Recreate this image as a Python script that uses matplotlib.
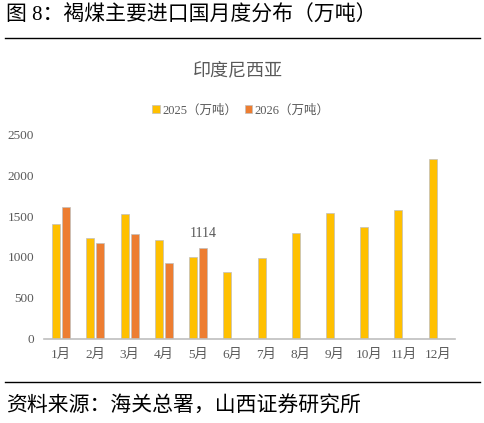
import numpy as np
import matplotlib.pyplot as plt
from matplotlib.lines import Line2D

plt.rcParams['font.family'] = ['Liberation Serif', 'Noto Sans CJK SC']

months = ['1月', '2月', '3月', '4月', '5月', '6月', '7月', '8月', '9月', '10月', '11月', '12月']
vals_2025 = [1400, 1227, 1524, 1207, 1004, 817, 988, 1293, 1537, 1361, 1577, 2199]
vals_2026 = [1610, 1166, 1280, 927, 1114, np.nan, np.nan, np.nan, np.nan, np.nan, np.nan, np.nan]
label_2025 = '2025（万吨）'
label_2026 = '2026（万吨）'

c25 = '#FFC000'
c26 = '#ED7D31'
gray = '#595959'

fig = plt.figure(figsize=(4.85, 4.23), dpi=100)
ax = fig.add_axes([0.0907, 0.1986, 0.847, 0.4846])

x = np.arange(len(months))
w = 0.235
ax.bar(x - 0.145, vals_2025, w, color=c25, edgecolor='#BFBFBF', linewidth=0.5, label=label_2025)
ax.bar(x + 0.145, vals_2026, w, color=c26, edgecolor='#BFBFBF', linewidth=0.5, label=label_2026)

# data label for May 2026
ax.text(4 + 0.145, vals_2026[4] + 95, '1114', ha='center', va='bottom', fontsize=10, color=gray)

ax.set_xlim(-0.5, 11.5)
ax.set_ylim(0, 2500)
ax.set_yticks([0, 500, 1000, 1500, 2000, 2500])
ax.set_xticks(x)
ax.set_xticklabels(months)
ax.tick_params(axis='both', length=0, labelsize=9.5, colors=gray)
ax.tick_params(axis='y', pad=7)
ax.tick_params(axis='x', pad=7)
for s in ['top', 'right', 'left']:
    ax.spines[s].set_visible(False)
ax.spines['bottom'].set_color('#BFBFBF')
ax.spines['bottom'].set_linewidth(1.2)

ax.legend(loc='lower center', bbox_to_anchor=(0.48, 1.03), ncol=2, frameon=False,
          fontsize=9, labelcolor=gray, handlelength=0.6, handleheight=0.6,
          handletextpad=0.2, columnspacing=0.6)

fig.text(0.49, 0.833, '印度尼西亚', ha='center', va='center', fontsize=13, color=gray,
         family=['Noto Sans CJK SC'])

# header and footer
fig.text(0.012, 0.963, '图 8：褐煤主要进口国月度分布（万吨）', ha='left', va='center',
         fontsize=15, color='black')
fig.add_artist(Line2D([0.01, 0.99], [0.909, 0.909], color='black', linewidth=1))
fig.add_artist(Line2D([0.01, 0.99], [0.097, 0.097], color='black', linewidth=1))
fig.text(0.012, 0.042, '资料来源：海关总署，山西证券研究所', ha='left', va='center',
         fontsize=15, color='black', family=['Noto Sans CJK SC'])

fig.savefig('out.png', dpi=100)
